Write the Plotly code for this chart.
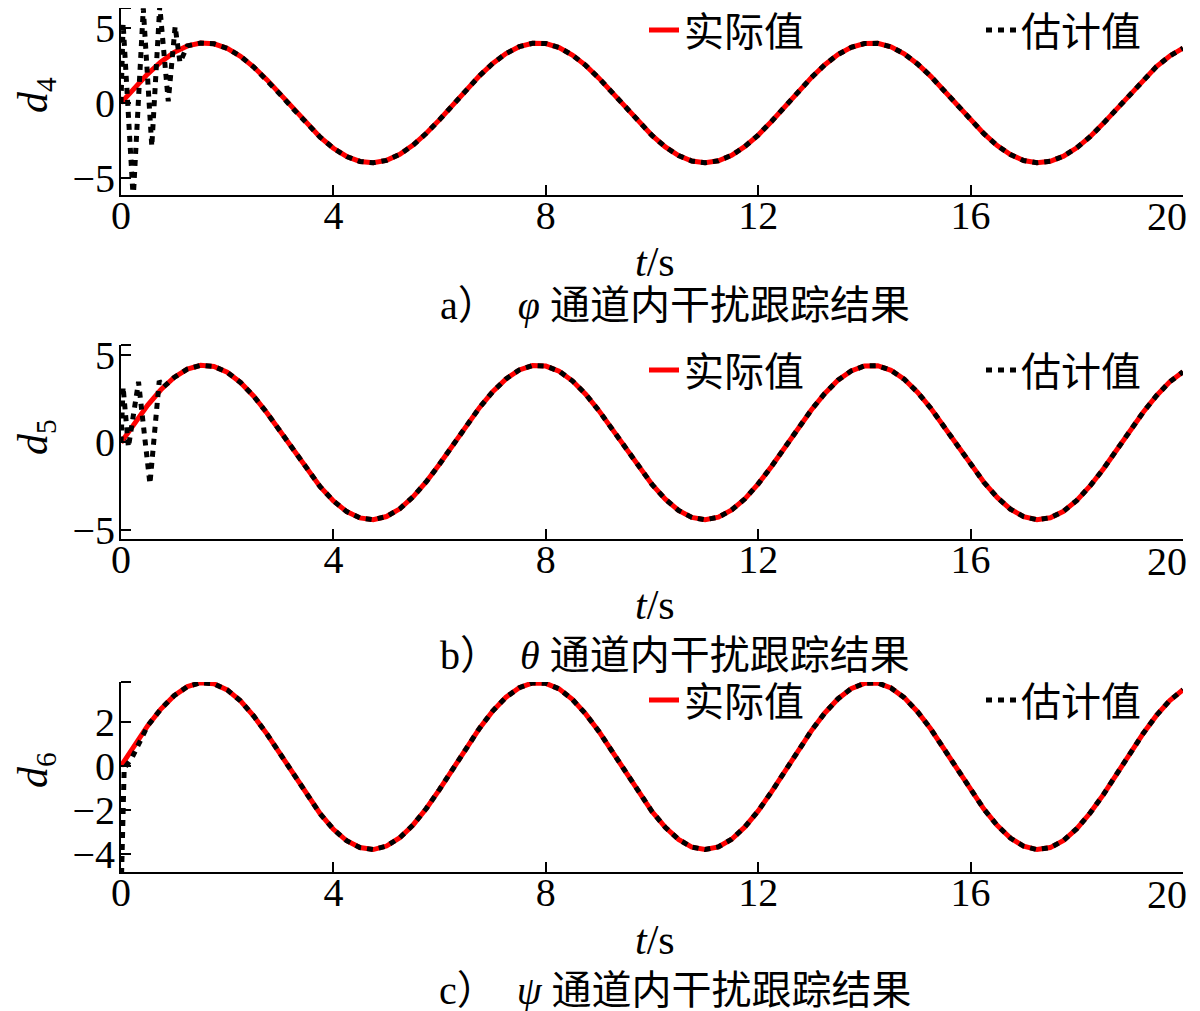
import plotly.graph_objects as go

# ---------------- data ----------------
t = [0, 0.25, 0.5, 0.75, 1, 1.25, 1.5, 1.75, 2, 2.25,
     2.5, 2.75, 3, 3.25, 3.5, 3.75, 4, 4.25, 4.5, 4.75,
     5, 5.25, 5.5, 5.75, 6, 6.25, 6.5, 6.75, 7, 7.25,
     7.5, 7.75, 8, 8.25, 8.5, 8.75, 9, 9.25, 9.5, 9.75,
     10, 10.25, 10.5, 10.75, 11, 11.25, 11.5, 11.75, 12, 12.25,
     12.5, 12.75, 13, 13.25, 13.5, 13.75, 14, 14.25, 14.5, 14.75,
     15, 15.25, 15.5, 15.75, 16, 16.25, 16.5, 16.75, 17, 17.25,
     17.5, 17.75, 18, 18.25, 18.5, 18.75, 19, 19.25, 19.5, 19.75,
     20]

d4_real = [0, 0.99, 1.92, 2.73, 3.37, 3.80, 3.99, 3.94, 3.64, 3.11,
           2.39, 1.53, 0.56, -0.43, -1.40, -2.29, -3.03, -3.58, -3.91, -4.00,
           -3.84, -3.44, -2.82, -2.03, -1.12, -0.13, 0.86, 1.80, 2.63, 3.29,
           3.75, 3.98, 3.96, 3.69, 3.19, 2.50, 1.65, 0.70, -0.30, -1.28,
           -2.18, -2.94, -3.52, -3.88, -4.00, -3.87, -3.50, -2.91, -2.15, -1.24,
           -0.27, 0.73, 1.68, 2.53, 3.22, 3.70, 3.96, 3.97, 3.74, 3.27,
           2.60, 1.77, 0.83, -0.17, -1.15, -2.06, -2.85, -3.45, -3.85, -4.00,
           -3.90, -3.56, -3.00, -2.26, -1.37, -0.40, 0.60, 1.56, 2.42, 3.13,
           3.65]

d5_real = [0, 1.09, 2.11, 3.00, 3.70, 4.18, 4.39, 4.33, 4.00, 3.42,
           2.63, 1.68, 0.62, -0.48, -1.54, -2.52, -3.33, -3.94, -4.30, -4.40,
           -4.22, -3.78, -3.10, -2.24, -1.23, -0.15, 0.95, 1.98, 2.89, 3.62,
           4.13, 4.38, 4.35, 4.06, 3.51, 2.75, 1.81, 0.77, -0.33, -1.41,
           -2.39, -3.23, -3.87, -4.27, -4.40, -4.26, -3.85, -3.21, -2.36, -1.37,
           -0.29, 0.80, 1.85, 2.78, 3.54, 4.07, 4.36, 4.37, 4.11, 3.60,
           2.86, 1.95, 0.91, -0.18, -1.27, -2.27, -3.13, -3.80, -4.23, -4.40,
           -4.29, -3.92, -3.30, -2.48, -1.51, -0.44, 0.66, 1.72, 2.66, 3.45,
           4.02]

d6_real = [0, 0.94, 1.82, 2.59, 3.20, 3.61, 3.79, 3.74, 3.46, 2.96,
           2.27, 1.45, 0.54, -0.41, -1.33, -2.17, -2.88, -3.40, -3.71, -3.80,
           -3.64, -3.26, -2.68, -1.93, -1.06, -0.13, 0.82, 1.71, 2.50, 3.13,
           3.56, 3.78, 3.76, 3.51, 3.03, 2.37, 1.57, 0.66, -0.29, -1.21,
           -2.07, -2.79, -3.34, -3.69, -3.80, -3.68, -3.33, -2.77, -2.04, -1.18,
           -0.25, 0.69, 1.60, 2.40, 3.05, 3.52, 3.76, 3.78, 3.55, 3.11,
           2.47, 1.68, 0.78, -0.16, -1.09, -1.96, -2.70, -3.28, -3.65, -3.80,
           -3.71, -3.39, -2.85, -2.14, -1.30, -0.38, 0.57, 1.48, 2.30, 2.98,
           3.47]

# transient part of the estimated disturbance (before it locks onto the real one)
d4_est_t = [0, 0.04, 0.23, 0.42, 0.58, 0.73, 0.89, 1.02, 1.11]
d4_est_v = [0, 5.3, -6.4, 6.3, -2.9, 6.45, 0.1, 5.1, 2.7]
d4_lock = 1.25

d5_est_t = [0, 0.04, 0.14, 0.33, 0.545, 0.72, 0.8]
d5_est_v = [0, 3.16, -0.27, 3.45, -2.36, 3.5, 3.16]
d5_lock = 1.0

d6_est_t = [0, 0.03, 0.06, 0.2, 0.45]
d6_est_v = [-6.0, -3.0, -0.1, 0.34, 1.62]
d6_lock = 0.5

x_ticks = [0, 4, 8, 12, 16, 20]
x_ticktext = ["0", "4", "8", "12", "16", ""]   # the last label is placed as an annotation (kept inside the page)
x_last_label = "20"
y_ranges = [[-6.15, 6.33], [-5.5, 5.55], [-4.82, 3.82]]
y_ticks = [[-5, 0, 5], [-5, 0, 5], [-4, -2, 0, 2]]
y_titles = ["<i>d</i><sub>4</sub>", "<i>d</i><sub>5</sub>", "<i>d</i><sub>6</sub>"]
captions = ["a）&nbsp;&nbsp;<i>φ</i> 通道内干扰跟踪结果",
            "b）&nbsp;&nbsp;<i>θ</i> 通道内干扰跟踪结果",
            "c）&nbsp;&nbsp;<i>ψ</i> 通道内干扰跟踪结果"]
name_real = "实际值"
name_est = "估计值"

# ---------------- figure ----------------
# (the page body adds an 8 px offset, so figure pixel positions are reference - 8)
W, H = 1200, 1011
FONT = "Liberation Serif, Noto Sans CJK SC, serif"
x_dom = [113 / W, 1175 / W]
panels_px = [(0, 187), (337, 531), (674, 864)]          # top, bottom of each plot area
legend_y_px = [22, 362, 692]
ytitle_px = [87, 429, 762]
xtick_px = [209, 553, 886]
xtitle_px = [254, 597, 932]
caption_px = [297, 647, 982]

fig = go.Figure()

series = [(d4_real, d4_est_t, d4_est_v, d4_lock),
          (d5_real, d5_est_t, d5_est_v, d5_lock),
          (d6_real, d6_est_t, d6_est_v, d6_lock)]

tickfont = dict(family=FONT, size=40, color="black")
legfont = dict(family=FONT, size=40, color="black")

annotations = []
shapes = []
for i, (real, et, ev, lock) in enumerate(series):
    ax = "" if i == 0 else str(i + 1)
    leg_r = "legend" if i == 0 else "legend" + str(2 * i + 1)
    leg_e = "legend" + str(2 * i + 2)
    est_t = et + [tt for tt in t if tt >= lock]
    est_v = ev + [v for tt, v in zip(t, real) if tt >= lock]
    fig.add_trace(go.Scatter(x=t, y=real, mode="lines", name=name_real,
                             line=dict(color="#ff0000", width=5),
                             xaxis="x" + ax, yaxis="y" + ax, legend=leg_r))
    fig.add_trace(go.Scatter(x=est_t, y=est_v, mode="lines", name=name_est,
                             line=dict(color="black", width=5, dash="6px,6px"),
                             xaxis="x" + ax, yaxis="y" + ax, legend=leg_e))

    top, bot = panels_px[i]
    ydom = [1 - bot / H, 1 - top / H]
    ly = 1 - legend_y_px[i] / H
    fig.update_layout(**{
        "xaxis" + ax: dict(domain=x_dom, range=[0, 20], tickvals=x_ticks, ticktext=x_ticktext,
                           showline=True, linecolor="black", linewidth=2,
                           ticks="inside", ticklen=10, tickwidth=2, tickcolor="black",
                           showgrid=False, zeroline=False, automargin=False,
                           ticklabelstandoff=-16, ticklabeloverflow="allow",
                           tickfont=tickfont, anchor="y" + ax),
        "yaxis" + ax: dict(domain=ydom, range=y_ranges[i], tickvals=y_ticks[i],
                           showline=True, linecolor="black", linewidth=2,
                           ticks="inside", ticklen=10, tickwidth=2, tickcolor="black",
                           showgrid=False, zeroline=False, ticklabelstandoff=-4,
                           ticklabeloverflow="allow",
                           automargin=False, tickfont=tickfont,
                           anchor="x" + ax),
        leg_r: dict(x=636 / W, xanchor="left", y=ly, yanchor="middle",
                    bgcolor="rgba(0,0,0,0)", borderwidth=0, font=legfont),
        leg_e: dict(x=973 / W, xanchor="left", y=ly, yanchor="middle",
                    bgcolor="rgba(0,0,0,0)", borderwidth=0, font=legfont),
    })
    # small end cap at the top of the y axis line
    shapes.append(dict(type="line", xref="x" + ax + " domain", yref="y" + ax + " domain",
                       x0=0, x1=10 / (x_dom[1] - x_dom[0]) / W, y0=1, y1=1,
                       line=dict(color="black", width=2)))
    # last x tick label, right-aligned just past the end tick so it stays on the page
    annotations.append(dict(text=x_last_label, x=x_ticks[-1], xref="x" + ax,
                            y=1 - xtick_px[i] / H, yref="paper", showarrow=False,
                            xanchor="right", yanchor="middle", xshift=6,
                            font=tickfont))
    annotations.append(dict(text=y_titles[i], x=0, y=1 - ytitle_px[i] / H,
                            xref="paper", yref="paper", showarrow=False, textangle=-90,
                            xanchor="left", yanchor="middle",
                            font=dict(family=FONT, size=42, color="black")))
    annotations.append(dict(text="<i>t</i>/s", x=647 / W, y=1 - xtitle_px[i] / H,
                            xref="paper", yref="paper", showarrow=False,
                            xanchor="center", yanchor="middle",
                            font=dict(family=FONT, size=42, color="black")))
    annotations.append(dict(text=captions[i], x=667 / W, y=1 - caption_px[i] / H,
                            xref="paper", yref="paper", showarrow=False,
                            xanchor="center", yanchor="middle",
                            font=dict(family=FONT, size=40, color="black")))

fig.update_layout(width=W, height=H,
                  margin=dict(l=0, r=0, t=0, b=0, pad=0, autoexpand=False),
                  paper_bgcolor="white", plot_bgcolor="white",
                  showlegend=True, annotations=annotations, shapes=shapes)

fig.write_html("out.html")
